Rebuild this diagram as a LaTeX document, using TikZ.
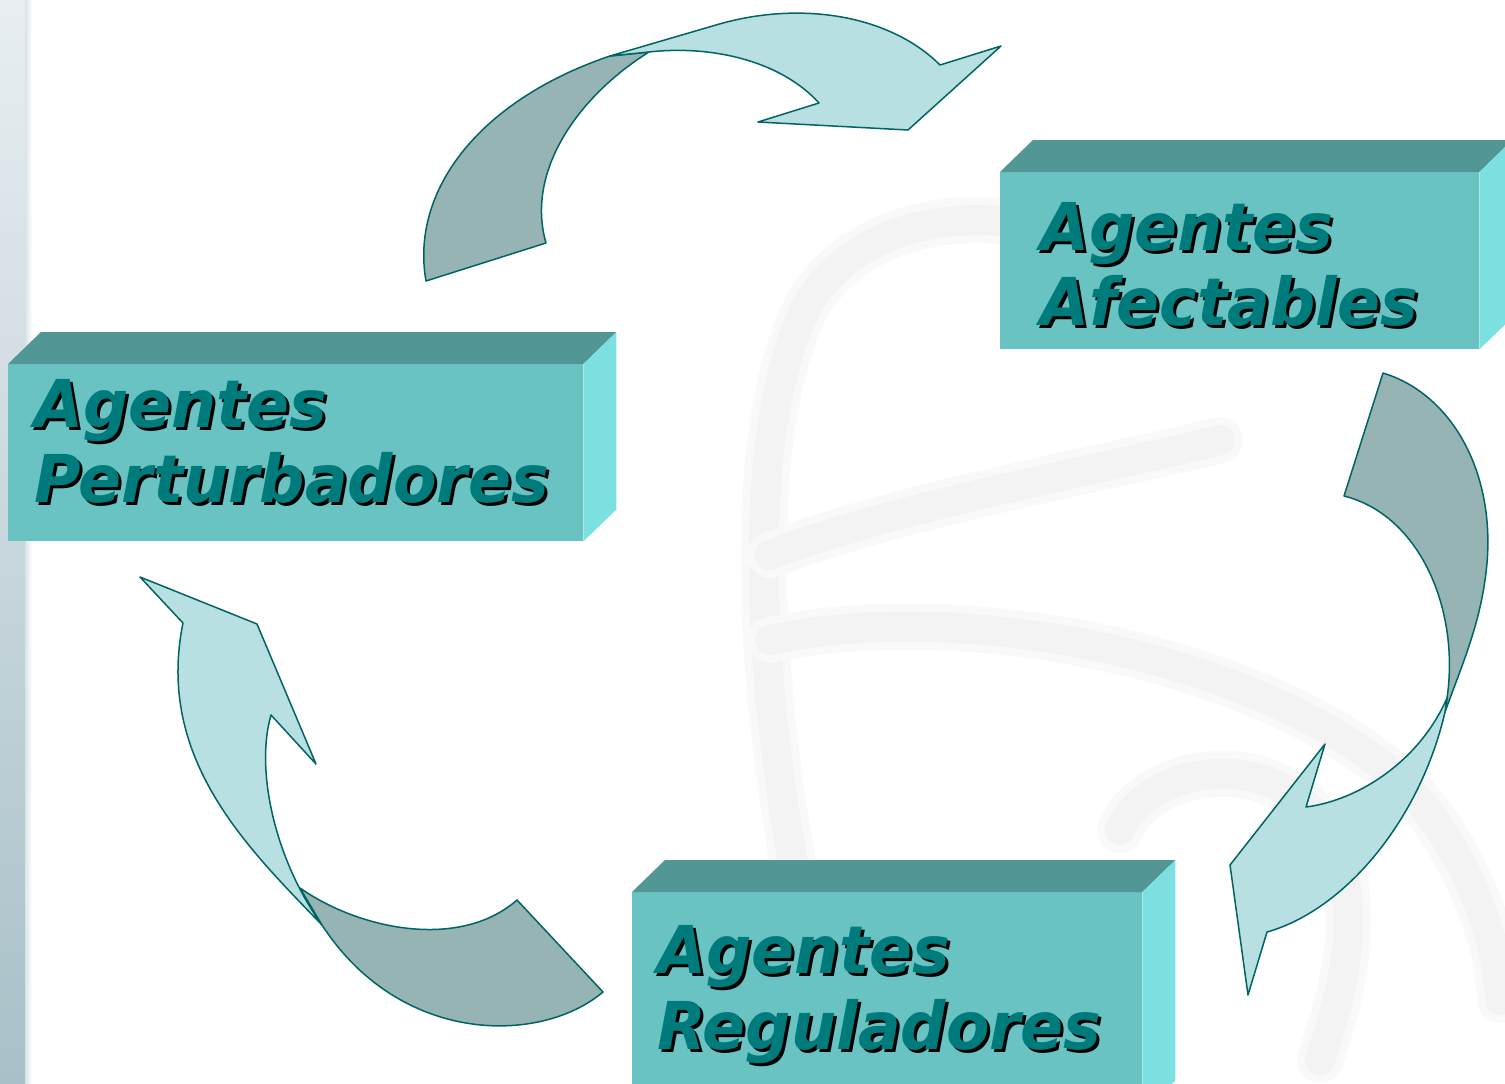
\documentclass[tikz,border=0pt]{standalone}
\usepackage{fontspec}
\newfontfamily\boxfont{DejaVu Sans}[FakeStretch=0.96]
\definecolor{topc}{HTML}{529696}
\definecolor{frontc}{HTML}{69C3C3}
\definecolor{sidec}{HTML}{7DE0E0}
\definecolor{txtc}{HTML}{007B7B}
\definecolor{arrlight}{HTML}{B8E0E2}
\definecolor{arrdark}{HTML}{96B4B4}
\definecolor{arredge}{HTML}{006464}
\definecolor{stripTop}{HTML}{E8EEF1}
\definecolor{stripBot}{HTML}{A8C0C8}
\definecolor{wmc}{HTML}{F3F3F3}
\definecolor{wmsoft}{HTML}{F9F9F9}
\newcommand\boxlabel[4]{%
  \node[lbl, text=black] (#1s) at ({#2+3},{#3+3}) {#4};
  \node[lbl, text=txtc] (#1) at (#2,#3) {#4};}
\newcommand\drawbox[1]{%
  \fill[topc] (#1.north west) -- ++(33,-32) -- ([shift={(33,-32)}]#1.north east) -- (#1.north east) -- cycle;
  \fill[sidec] (#1.north east) -- ++(33,-32) -- ([shift={(33,-32)}]#1.south east) -- (#1.south east) -- cycle;}
\newcommand\wmpath[1]{\draw[wms] #1; \draw[wm] #1;}
\begin{document}
\begin{tikzpicture}[x=1pt,y=-1pt,
  lbl/.style={anchor=base west, inner sep=0pt, font=\boxfont\bfseries\itshape\fontsize{66}{75}\selectfont},
  front/.style={fill=frontc, draw=none, inner sep=0pt, anchor=north west},
  wm/.style={draw=wmc, line width=30pt, line cap=round},
  wms/.style={draw=wmsoft, line width=46pt, line cap=round},
  light/.style={fill=arrlight, draw=arredge, line width=1.5pt, line join=round},
  dark/.style={fill=arrdark, draw=arredge, line width=1.5pt, line join=round}]
\path[use as bounding box, clip] (0,0) rectangle (1505,1084);
\fill[white] (0,0) rectangle (1505,1084);
% left strip
\fill[top color=stripTop, bottom color=stripBot] (0,0) rectangle (25,1084);
\fill[left color=stripTop!50!stripBot!70!white, right color=white] (25,0) rectangle (32,1084);
% watermark
\wmpath{(800,900) .. controls (760,700) and (740,430) .. (810,300) .. controls (870,210) and (1000,200) .. (1110,250)}
\wmpath{(770,555) .. controls (900,505) and (1100,470) .. (1220,440)}
\wmpath{(770,640) .. controls (950,600) and (1250,650) .. (1400,780) .. controls (1470,850) and (1500,950) .. (1500,1000)}
\wmpath{(1120,830) .. controls (1150,760) and (1300,740) .. (1340,860) .. controls (1360,930) and (1340,1000) .. (1320,1060)}
% boxes
\node[front, minimum width=575pt, minimum height=177pt] (pert) at (8,364) {};
\drawbox{pert}
\node[front, minimum width=479pt, minimum height=177pt] (afec) at (1000,172) {};
\drawbox{afec}
\node[front, minimum width=510pt, minimum height=220pt] (regu) at (632,892) {};
\drawbox{regu}
\boxlabel{pertA}{34}{427}{Agentes}
\boxlabel{pertB}{34}{502}{Perturbadores}
\boxlabel{afecA}{1040}{250}{Agentes}
\boxlabel{afecB}{1040}{325}{Afectables}
\boxlabel{reguA}{657}{973}{Agentes}
\boxlabel{reguB}{657}{1049}{Reguladores}
% top arrow (Perturbadores -> Afectables)
\draw[dark] (426,281) .. controls (410,190) and (480,100) .. (610,56) -- (649,52)
  .. controls (580,95) and (525,170) .. (546,243) -- cycle;
\draw[light] (610,56) -- (716,25) .. controls (800,0) and (890,15) .. (940,65)
  -- (1001,46) -- (908,130) -- (758,122) -- (819,103)
  .. controls (780,60) and (710,45) .. (649,52) -- cycle;
% right arrow (Afectables -> Reguladores)
\draw[dark] (1383,373) .. controls (1455,395) and (1500,480) .. (1485,580)
  .. controls (1478,630) and (1460,670) .. (1445,712) -- (1447,698)
  .. controls (1460,610) and (1420,515) .. (1344,496) -- cycle;
\draw[light] (1447,698) .. controls (1420,760) and (1360,800) .. (1306,807)
  -- (1325,744) -- (1230,865) -- (1248,995) -- (1267,932)
  .. controls (1345,910) and (1420,820) .. (1445,712) -- cycle;
% left arrow (Reguladores -> Perturbadores)
\draw[light] (183,623) -- (140,577) -- (257,624) -- (316,764) -- (271,715)
  .. controls (255,770) and (275,860) .. (322,925)
  .. controls (250,850) and (155,760) .. (183,623) -- cycle;
\draw[dark] (300,888) .. controls (360,930) and (460,950) .. (517,900) -- (603,992)
  .. controls (540,1045) and (400,1045) .. (322,925) -- cycle;
\end{tikzpicture}
\end{document}
